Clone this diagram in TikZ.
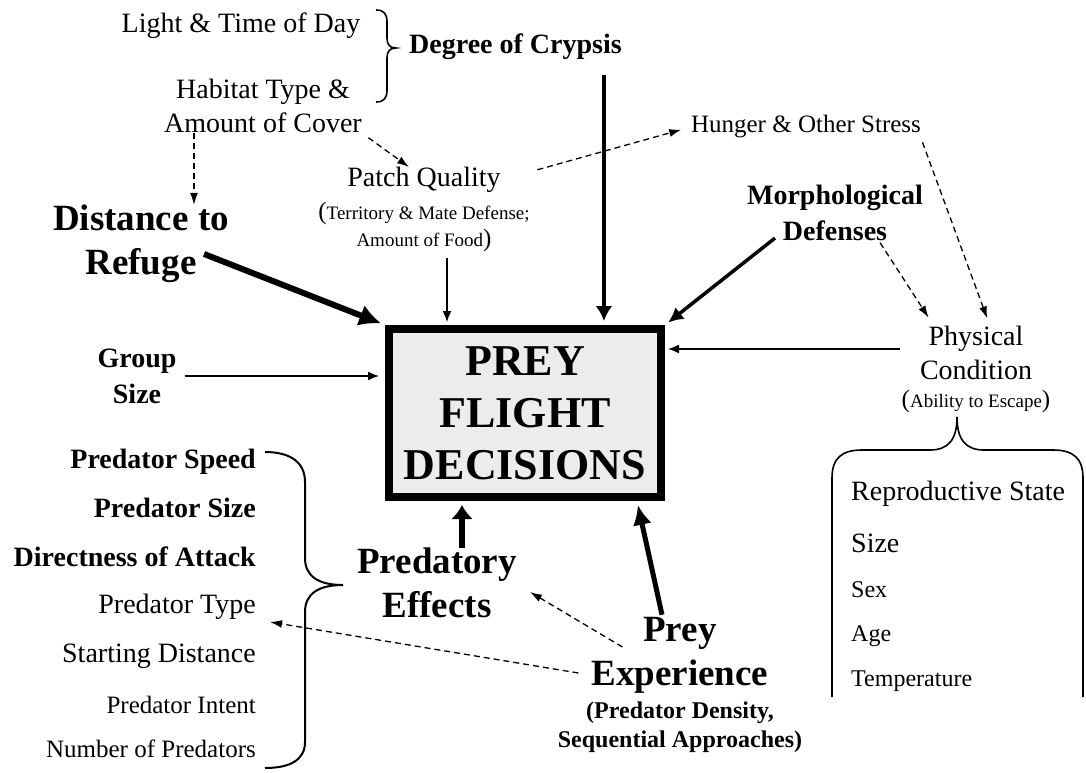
\documentclass[tikz,border=0pt]{standalone}
\usepackage{fontspec}
\setmainfont{Liberation Serif}
\usetikzlibrary{arrows.meta,positioning,calc}

% larger round brackets around the small notes
\newcommand{\opar}{{\fontsize{25}{25}\selectfont(}}
\newcommand{\cpar}{{\fontsize{25}{25}\selectfont)}}

\begin{document}
\begin{tikzpicture}[x=1pt,y=-1pt,
    every node/.style={inner sep=0pt,align=center},
    rm/.style={font=\fontsize{28}{34}\selectfont},
    rms/.style={font=\fontsize{24}{30}\selectfont},
    bf/.style={font=\fontsize{28}{36}\selectfont\bfseries},
    bfs/.style={font=\fontsize{24}{29}\selectfont\bfseries},
    big/.style={font=\fontsize{37}{44}\selectfont\bfseries},
    note/.style={font=\fontsize{19}{27}\selectfont},
    thn/.style={line width=1.5pt,-{Latex[length=11pt,width=9pt]}},
    med/.style={line width=3.5pt,-{Latex[length=15pt,width=15pt]}},
    thk/.style={line width=5pt,-{Latex[length=20pt,width=19pt]}},
    dsh/.style={line width=1.3pt,dash pattern=on 6pt off 4pt,-{Latex[length=12pt,width=8pt]}},
    brc/.style={line width=1.6pt}]
    \useasboundingbox (0,0) rectangle (1086,773);

    % central box
    \node[draw,line width=8pt,fill=gray!15,minimum width=272pt,minimum height=168pt,
          font=\fontsize{44}{52}\selectfont\bfseries] (box) at (525,413) {PREY\\FLIGHT\\DECISIONS};

    % top factors
    \node[rm] (light) at (241,26) {Light \& Time of Day};
    \node[rm] (habitat) at (263,106) {Habitat Type \&\\Amount of Cover};
    \node[bf,anchor=west] (crypsis) at (409,47) {Degree of Crypsis};
    \node[rm] (patch) at (424,180) {Patch Quality};
    \node[note] (patchnote) at (424,227) {\opar Territory \& Mate Defense;\\Amount of Food\cpar};
    \node[font=\fontsize{25}{30}\selectfont] (hunger) at (806,127) {Hunger \& Other Stress};
    \node[bf] (morph) at (835,213) {Morphological\\Defenses};
    \node[rm] (phys) at (976,353) {Physical\\Condition};
    \node[note] (physnote) at (976,401) {\opar Ability to Escape\cpar};

    % left factors
    \node[big] (dist) at (141,244) {Distance to\\Refuge};
    \node[bf] (group) at (137,376) {Group\\Size};

    % predator list
    \node[bf,anchor=east] (pspeed) at (256,462) {Predator Speed};
    \node[bf,anchor=east] (psize) at (256,508) {Predator Size};
    \node[bf,anchor=east] (direct) at (256,557) {Directness of Attack};
    \node[rm,anchor=east] (ptype) at (256,607) {Predator Type};
    \node[rm,anchor=east] (start) at (256,656) {Starting Distance};
    \node[font=\fontsize{25}{30}\selectfont,anchor=east] (intent) at (256,705) {Predator Intent};
    \node[font=\fontsize{25}{30}\selectfont,anchor=east] (number) at (256,749) {Number of Predators};

    \node[big] (predeff) at (437,583) {Predatory\\Effects};
    \node[big] (prey) at (680,655) {Prey\\Experience};
    \node[bfs] (preynote) at (680,727) {(Predator Density,\\Sequential Approaches)};

    % body condition list
    \node[rm,anchor=west] (repro) at (851,494) {Reproductive State};
    \node[rm,anchor=west] (bsize) at (851,543) {Size};
    \node[rms,anchor=west] (sex) at (851,590) {Sex};
    \node[rms,anchor=west] (age) at (851,636) {Age};
    \node[rms,anchor=west] (temp) at (851,681) {Temperature};

    % braces
    \draw[brc] (376,10) .. controls (384,10) and (387,14) .. (387,22) -- (387,38)
        .. controls (387,45) and (390,48) .. (396,48) .. controls (390,48) and (387,51) .. (387,58)
        -- (387,90) .. controls (387,98) and (384,102) .. (376,102);
    \draw[line width=2pt] (265,452) .. controls (290,452) and (305,462) .. (305,482) -- (305,558)
        .. controls (305,576) and (318,585) .. (343,585) .. controls (318,585) and (305,594) .. (305,612)
        -- (305,742) .. controls (305,760) and (290,768) .. (265,768);
    \draw[brc] (832,697) -- (832,478) .. controls (832,458) and (842,450) .. (862,450) -- (930,450)
        .. controls (948,450) and (957,440) .. (957,417) .. controls (957,440) and (966,450) .. (984,450)
        -- (1053,450) .. controls (1073,450) and (1083,458) .. (1083,478) -- (1083,697);

    % dashed influences (shifts in pt point up)
    \draw[dsh] ([xshift=-69pt]habitat.south) -- ([xshift=-69pt]habitat.south |- dist.north);
    \draw[dsh,shorten <=8pt] (habitat.south east) -- ([xshift=-15pt]patch.north);
    \draw[dsh,shorten <=38pt,shorten >=10pt] (patch.east) -- (hunger.west);
    \draw[dsh,shorten <=4pt,shorten >=8pt] (hunger.south east) -- ([xshift=14pt]phys.north);
    \draw[dsh,shorten <=2pt,shorten >=10pt] ([xshift=44pt]morph.south) -- ([xshift=-42pt]phys.north);
    \draw[dsh] ([shift={(31pt,8pt)}]prey.west) -- ([shift={(13pt,-9pt)}]predeff.east);
    \draw[dsh] ([shift={(-13pt,-18pt)}]prey.west) -- ([shift={(14pt,-15pt)}]ptype.east);

    % direct effects on flight decisions
    \draw[thn,shorten <=6pt,shorten >=3pt] ([xshift=23pt]patchnote.south) -- ([xshift=23pt]patchnote.south |- box.north);
    \draw[thk,line width=4.5pt,-{Latex[length=15pt,width=17pt]},shorten >=4pt] ([xshift=-18pt,yshift=-15pt]crypsis.south east) -- ([xshift=-18pt]crypsis.south east |- box.north);
    \draw[med,shorten >=4pt] ([xshift=-60pt,yshift=3pt]morph.south) -- (box.north east);
    \draw[thn,shorten <=20pt,shorten >=3pt] ([yshift=4pt]phys.west) -- ([yshift=4pt]phys.west -| box.east);
    \draw[thk,line width=6pt,-{Latex[length=22pt,width=22pt]},shorten >=4pt] ([shift={(-25pt,-10pt)}]dist.east) -- (box.north west);
    \draw[thn,shorten <=8pt,shorten >=6pt] (group.east) -- (group.east -| box.west);
    \draw[thk,line width=6pt,-{Latex[length=14pt,width=22pt]},shorten >=4pt] ([xshift=25pt]predeff.north) -- ([xshift=25pt]predeff.north |- box.south);
    \draw[thk,shorten >=4pt] ([xshift=-18pt,yshift=2pt]prey.north) -- ([xshift=-28pt]box.south east);
\end{tikzpicture}
\end{document}
